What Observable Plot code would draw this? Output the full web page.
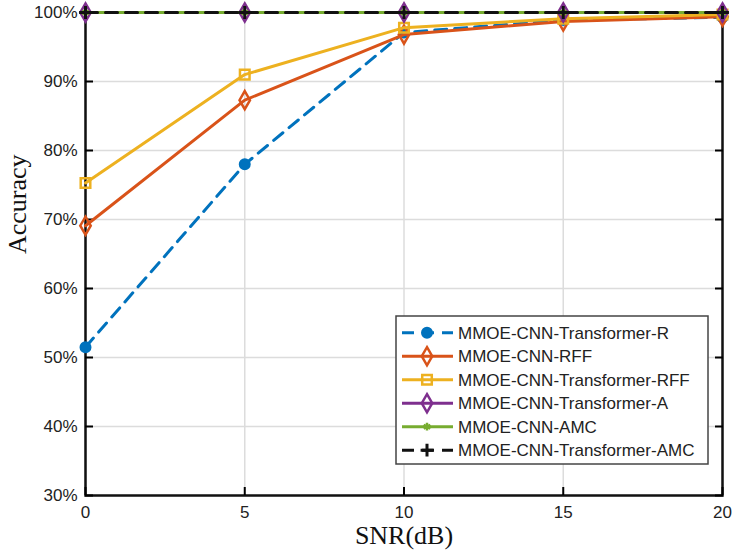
<!DOCTYPE html>
<html>
<head>
<meta charset="utf-8">
<script src="https://cdn.jsdelivr.net/npm/d3@7"></script>
<script src="https://cdn.jsdelivr.net/npm/@observablehq/plot@0.6"></script>
<style>
  html, body { margin: 0; padding: 0; background: #fff; }
  #chart svg { display: block; }
</style>
</head>
<body>
<div id="chart"></div>
<script>
// ---- Data ----
const snr = [0, 5, 10, 15, 20];
const accR    = [51.5, 78.0, 97.1, 98.9, 99.3];   // MMOE-CNN-Transformer-R
const accRFF  = [69.1, 87.3, 96.8, 98.7, 99.4];   // MMOE-CNN-RFF
const accTRFF = [75.3, 91.0, 97.8, 99.1, 99.7];   // MMOE-CNN-Transformer-RFF
const accA    = [100, 100, 100, 100, 100];        // MMOE-CNN-Transformer-A
const accAMC  = [100, 100, 100, 100, 100];        // MMOE-CNN-AMC
const accTAMC = [100, 100, 100, 100, 100];        // MMOE-CNN-Transformer-AMC
const seriesNames = [
  "MMOE-CNN-Transformer-R",
  "MMOE-CNN-RFF",
  "MMOE-CNN-Transformer-RFF",
  "MMOE-CNN-Transformer-A",
  "MMOE-CNN-AMC",
  "MMOE-CNN-Transformer-AMC"
];
const seriesValues = [accR, accRFF, accTRFF, accA, accAMC, accTAMC];
const xTicks = [0, 5, 10, 15, 20];
const yTicks = [30, 40, 50, 60, 70, 80, 90, 100];

// ---- Styles ----
const styles = [
  {color: "#0072BD", dash: "12,8", symbol: "circle",   r: 5,   fill: "#0072BD", sw: 2},
  {color: "#D95319", dash: null,   symbol: "diamond",  r: 5.5, fill: "none",    sw: 2.5},
  {color: "#EDB120", dash: null,   symbol: "square",   r: 5.4, fill: "none",    sw: 2.5},
  {color: "#7E2F8E", dash: null,   symbol: "diamond",  r: 5.5, fill: "none",    sw: 2.5},
  {color: "#77AC30", dash: null,   symbol: "asterisk", r: 3.6, fill: "none",    sw: 2.5},
  {color: "#111111", dash: "12,8", symbol: "plus",     r: 4.2, fill: "none",    sw: 3}
];

const series = seriesNames.map((name, i) =>
  snr.map((x, j) => ({series: name, snr: x, acc: seriesValues[i][j]}))
);

const FONT = "Liberation Sans, Arial, sans-serif";
const SERIF = "Liberation Serif, Times New Roman, serif";

const marks = [
  Plot.gridX(xTicks, {stroke: "#dcdcdc", strokeOpacity: 1, strokeWidth: 1.5}),
  Plot.gridY(yTicks, {stroke: "#dcdcdc", strokeOpacity: 1, strokeWidth: 1.5}),
  Plot.frame({stroke: "#111", strokeWidth: 2.5}),
  // inward ticks
  Plot.axisY(yTicks, {anchor: "left", tickSize: 8, dx: 8, text: null, label: null, strokeWidth: 2}),
  Plot.axisY(yTicks, {anchor: "right", tickSize: 8, dx: -8, text: null, label: null, strokeWidth: 2}),
  Plot.axisX(xTicks, {anchor: "bottom", tickSize: 8, dy: -8, text: null, label: null, strokeWidth: 2})
];
series.forEach((data, i) => {
  const s = styles[i];
  marks.push(Plot.line(data, {x: "snr", y: "acc", stroke: s.color, strokeWidth: 3,
    strokeDasharray: s.dash, strokeLinejoin: "round"}));
  marks.push(Plot.dot(data, {x: "snr", y: "acc", symbol: s.symbol, r: s.r,
    stroke: s.color, fill: s.fill, strokeWidth: s.sw}));
});
marks.push(
  // labels
  Plot.axisY(yTicks, {anchor: "left", tickSize: 0, tickPadding: 8, tickFormat: d => d + "%",
    label: null, fontSize: 17, fontFamily: FONT, fill: "#222"}),
  Plot.axisX(xTicks, {anchor: "bottom", tickSize: 0, tickPadding: 10, tickFormat: d => String(d),
    label: null, fontSize: 17, fontFamily: FONT, fill: "#222"}),
  Plot.text(["SNR(dB)"], {frameAnchor: "bottom", dy: 48, fontSize: 26, fontFamily: SERIF, fill: "#111"}),
  Plot.text(["Accuracy"], {frameAnchor: "left", dx: -68, rotate: -90, fontSize: 26, fontFamily: SERIF, fill: "#111"})
);

const chart = Plot.plot({
  width: 735,
  height: 559,
  marginLeft: 85,
  marginRight: 13,
  marginTop: 12,
  marginBottom: 64,
  style: {background: "#fff", fontFamily: FONT},
  x: {domain: [0, 20], ticks: xTicks},
  y: {domain: [30, 100], ticks: yTicks},
  marks
});
document.getElementById("chart").appendChild(chart);

// ---- Legend (inside the plot area) ----
const svg = d3.select(chart);
const lg = svg.append("g").attr("transform", "translate(396,316)").attr("text-anchor", "start");
lg.append("rect").attr("width", 312).attr("height", 148)
  .attr("fill", "#fff").attr("stroke", "#444").attr("stroke-width", 1.5);
const symMap = {circle: d3.symbolCircle, diamond: d3.symbolDiamond, square: d3.symbolSquare,
  asterisk: d3.symbolAsterisk, plus: d3.symbolPlus};
seriesNames.forEach((name, i) => {
  const s = styles[i];
  const y = 16.7 + i * 23.5;
  const row = lg.append("g").attr("transform", `translate(0,${y})`);
  row.append("line").attr("x1", 6).attr("x2", 57).attr("y1", 0).attr("y2", 0)
    .attr("stroke", s.color).attr("stroke-width", 3)
    .attr("stroke-dasharray", s.dash ? "12,8" : null);
  row.append("path").attr("transform", "translate(31,0)")
    .attr("d", d3.symbol(symMap[s.symbol], Math.PI * s.r * s.r)())
    .attr("fill", s.fill).attr("stroke", s.color).attr("stroke-width", s.sw);
  row.append("text").attr("x", 62).attr("y", 0).attr("dy", "0.35em")
    .attr("text-anchor", "start")
    .attr("font-family", FONT).attr("font-size", 17).attr("fill", "#222").text(name);
});
</script>
</body>
</html>
